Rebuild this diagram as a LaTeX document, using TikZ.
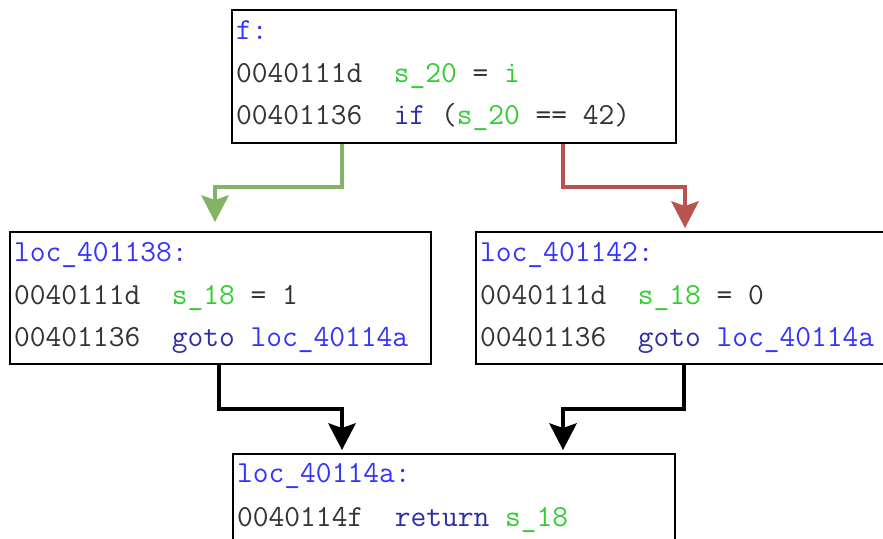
\documentclass[tikz,border=0pt]{standalone}
\usepackage{fontspec}
\usetikzlibrary{arrows.meta,calc}
\definecolor{lblblue}{HTML}{3333FF}
\definecolor{kwblue}{HTML}{2E2EA6}
\definecolor{vargreen}{HTML}{33CC33}
\definecolor{codegray}{HTML}{333333}
\definecolor{truegreen}{HTML}{82B366}
\definecolor{falsered}{HTML}{B85450}
\newcommand{\lbl}[1]{\textcolor{lblblue}{#1}}
\newcommand{\kw}[1]{\textcolor{kwblue}{#1}}
\newcommand{\va}[1]{\textcolor{vargreen}{#1}}
\begin{document}
\begin{tikzpicture}[x=1pt,y=-1pt]
\tikzset{
  blk/.style 2 args={draw=black, line width=2pt, fill=white, anchor=north west,
    inner sep=0pt, minimum width=#1pt, minimum height=#2pt},
  code/.style={anchor=base west, inner sep=0pt, text=codegray,
    font=\fontsize{30.6}{34}\selectfont\ttfamily},
  flow/.style={line width=4pt, line join=miter,
    -{Stealth[length=27pt, width=28pt, inset=5pt, line width=0pt]}},
  tflow/.style={flow, draw=truegreen},
  fflow/.style={flow, draw=falsered},
  jflow/.style={flow, draw=black}
}
\useasboundingbox (0,0) rectangle (883,538);
\clip (0,0) rectangle (883,538);

% basic blocks
\node[blk={444}{133}] (f)   at (231,9)   {};
\node[blk={421}{132}] (l1)  at (9,231)   {};
\node[blk={421}{132}] (l2)  at (475,231) {};
\node[blk={442}{133}] (ret) at (232,453) {};

% block f
\node[code] (f0) at ($(f.north west)+(5,30)$)  {\lbl{f:}};
\node[code] (f1) at ($(f.north west)+(5,73)$)  {0040111d\ \ \va{s\_20} = \va{i}};
\node[code] (f2) at ($(f.north west)+(5,115)$) {00401136\ \ \kw{if} (\va{s\_20} == 42)};

% block loc_401138
\node[code] (a0) at ($(l1.north west)+(5,30)$)  {\lbl{loc\_401138:}};
\node[code] (a1) at ($(l1.north west)+(5,73)$)  {0040111d\ \ \va{s\_18} = 1};
\node[code] (a2) at ($(l1.north west)+(5,115)$) {00401136\ \ \kw{goto} \lbl{loc\_40114a}};

% block loc_401142
\node[code] (b0) at ($(l2.north west)+(5,30)$)  {\lbl{loc\_401142:}};
\node[code] (b1) at ($(l2.north west)+(5,73)$)  {0040111d\ \ \va{s\_18} = 0};
\node[code] (b2) at ($(l2.north west)+(5,115)$) {00401136\ \ \kw{goto} \lbl{loc\_40114a}};

% block loc_40114a
\node[code] (c0) at ($(ret.north west)+(5,29)$)  {\lbl{loc\_40114a:}};
\node[code] (c1) at ($(ret.north west)+(5,73)$)  {0040114f\ \ \kw{return} \va{s\_18}};

% branch edges
\draw[tflow] ($(f.south west)+(111,0)$) -- ++(0,43) -| ($(l1.north west)+(206,-9)$);
\draw[fflow] ($(f.south west)+(332,0)$) -- ++(0,43) -| ($(l2.north west)+(210,-3)$);

% jumps to loc_40114a
\draw[jflow] ($(l1.south west)+(210,0)$) -- ++(0,44) -| ($(ret.north west)+(110,-3)$);
\draw[jflow] ($(l2.south west)+(209,0)$) -- ++(0,44) -| ($(ret.north west)+(331,-3)$);
\end{tikzpicture}
\end{document}
